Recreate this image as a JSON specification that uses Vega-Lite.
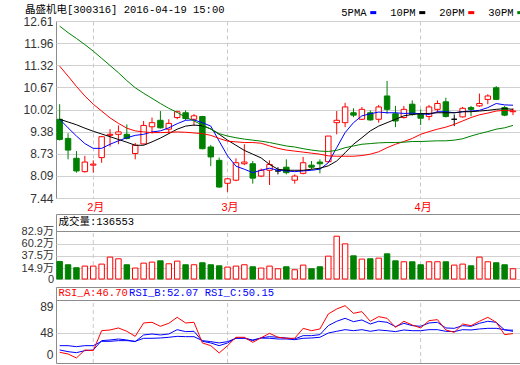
{
  "$schema": "https://vega.github.io/schema/vega-lite/v6.json",
  "background": "white",
  "padding": {"left": 20, "top": 4, "right": 0, "bottom": 0},
  "config": {
    "view": {"stroke": "#8c8c8c", "strokeWidth": 1},
    "axis": {"labelFont": "Liberation Sans, Noto Sans CJK SC", "labelFontSize": 12, "labelColor": "#333333", "ticks": false, "tickSize": 0, "domain": false, "title": null, "gridColor": "#d0d0d0", "gridWidth": 1, "labelOverlap": false, "tickCount": 60}
  },
  "datasets": {
    "k": [
      {"date":"2016-01-26","open":9.74,"high":10.18,"low":9.12,"close":9.15,"dir":"down","vol":271000,"ma5":9.74,"ma10":9.74,"ma20":11.29,"ma30":12.46,"rsiA":17,"rsiB":20.7,"rsiC":27.5},
      {"date":"2016-01-27","open":9.18,"high":9.33,"low":8.57,"close":8.84,"dir":"down","vol":210000,"ma5":9.49,"ma10":9.66,"ma20":11.0,"ma30":12.27,"rsiA":14.3,"rsiB":18,"rsiC":27.5},
      {"date":"2016-01-28","open":8.6,"high":8.81,"low":8.18,"close":8.23,"dir":"down","vol":155000,"ma5":9.25,"ma10":9.58,"ma20":10.7,"ma30":12.1,"rsiA":8,"rsiB":16.4,"rsiC":25.9},
      {"date":"2016-01-29","open":8.21,"high":8.67,"low":8.18,"close":8.49,"dir":"up","vol":185000,"ma5":9.03,"ma10":9.48,"ma20":10.42,"ma30":11.92,"rsiA":20.7,"rsiB":19.6,"rsiC":27.5},
      {"date":"2016-02-01","open":8.4,"high":8.54,"low":8.18,"close":8.43,"dir":"up","vol":185000,"ma5":8.89,"ma10":9.39,"ma20":10.18,"ma30":11.73,"rsiA":19.6,"rsiB":20.7,"rsiC":27.5},
      {"date":"2016-02-02","open":8.62,"high":9.25,"low":8.47,"close":9.23,"dir":"up","vol":222000,"ma5":8.89,"ma10":9.31,"ma20":9.98,"ma30":11.52,"rsiA":51.3,"rsiB":35.5,"rsiC":34.4},
      {"date":"2016-02-03","open":9.27,"high":9.45,"low":8.94,"close":9.3,"dir":"up","vol":351000,"ma5":9.01,"ma10":9.23,"ma20":9.78,"ma30":11.31,"rsiA":52.4,"rsiB":36.5,"rsiC":34.4},
      {"date":"2016-02-04","open":9.3,"high":9.56,"low":9.01,"close":9.37,"dir":"up","vol":320000,"ma5":9.11,"ma10":9.15,"ma20":9.62,"ma30":11.1,"rsiA":55.6,"rsiB":38.1,"rsiC":35.5},
      {"date":"2016-02-05","open":9.3,"high":9.59,"low":9.15,"close":9.18,"dir":"down","vol":210000,"ma5":9.2,"ma10":9.07,"ma20":9.48,"ma30":10.87,"rsiA":50.3,"rsiB":36.5,"rsiC":35.5},
      {"date":"2016-02-15","open":8.74,"high":9.05,"low":8.57,"close":8.98,"dir":"up","vol":149000,"ma5":9.27,"ma10":8.98,"ma20":9.4,"ma30":10.66,"rsiA":42.3,"rsiB":33.9,"rsiC":34.4},
      {"date":"2016-02-16","open":9.02,"high":9.69,"low":9.0,"close":9.56,"dir":"up","vol":240000,"ma5":9.3,"ma10":8.98,"ma20":9.37,"ma30":10.5,"rsiA":63.5,"rsiB":44.5,"rsiC":39.2},
      {"date":"2016-02-17","open":9.52,"high":9.79,"low":9.32,"close":9.64,"dir":"up","vol":259000,"ma5":9.37,"ma10":9.08,"ma20":9.35,"ma30":10.35,"rsiA":64.6,"rsiB":46,"rsiC":39.2},
      {"date":"2016-02-18","open":9.71,"high":9.98,"low":9.47,"close":9.49,"dir":"down","vol":283000,"ma5":9.4,"ma10":9.19,"ma20":9.35,"ma30":10.2,"rsiA":58.2,"rsiB":44.5,"rsiC":39.7},
      {"date":"2016-02-19","open":9.45,"high":9.74,"low":9.32,"close":9.62,"dir":"up","vol":228000,"ma5":9.49,"ma10":9.32,"ma20":9.36,"ma30":10.06,"rsiA":63,"rsiB":46,"rsiC":40.8},
      {"date":"2016-02-22","open":9.79,"high":9.99,"low":9.74,"close":9.96,"dir":"up","vol":277000,"ma5":9.61,"ma10":9.45,"ma20":9.37,"ma30":9.94,"rsiA":72.5,"rsiB":52.9,"rsiC":42.3},
      {"date":"2016-02-23","open":9.93,"high":10.0,"low":9.71,"close":9.76,"dir":"down","vol":210000,"ma5":9.71,"ma10":9.54,"ma20":9.36,"ma30":9.8,"rsiA":63.5,"rsiB":49.8,"rsiC":41.8},
      {"date":"2016-02-24","open":9.74,"high":9.89,"low":9.55,"close":9.84,"dir":"up","vol":210000,"ma5":9.72,"ma10":9.57,"ma20":9.34,"ma30":9.69,"rsiA":64.6,"rsiB":50.3,"rsiC":41.8},
      {"date":"2016-02-25","open":9.82,"high":9.84,"low":8.86,"close":8.88,"dir":"down","vol":247000,"ma5":9.64,"ma10":9.55,"ma20":9.32,"ma30":9.57,"rsiA":31.8,"rsiB":34.4,"rsiC":35.5},
      {"date":"2016-02-26","open":8.93,"high":8.99,"low":8.37,"close":8.64,"dir":"down","vol":210000,"ma5":9.54,"ma10":9.46,"ma20":9.27,"ma30":9.45,"rsiA":27.5,"rsiB":31.8,"rsiC":33.9},
      {"date":"2016-02-29","open":8.54,"high":8.62,"low":7.74,"close":7.76,"dir":"down","vol":191000,"ma5":9.1,"ma10":9.3,"ma20":9.18,"ma30":9.32,"rsiA":15.9,"rsiB":27.5,"rsiC":31.8},
      {"date":"2016-03-01","open":7.87,"high":8.02,"low":7.62,"close":8.0,"dir":"up","vol":167000,"ma5":8.67,"ma10":9.13,"ma20":9.1,"ma30":9.25,"rsiA":27.5,"rsiB":31.8,"rsiC":33.9},
      {"date":"2016-03-02","open":7.96,"high":8.6,"low":7.93,"close":8.47,"dir":"up","vol":185000,"ma5":8.37,"ma10":8.98,"ma20":9.08,"ma30":9.2,"rsiA":40.8,"rsiB":39.7,"rsiC":39.2},
      {"date":"2016-03-03","open":8.44,"high":9.01,"low":8.4,"close":8.49,"dir":"up","vol":210000,"ma5":8.28,"ma10":8.83,"ma20":9.06,"ma30":9.16,"rsiA":40.8,"rsiB":39.7,"rsiC":39.2},
      {"date":"2016-03-04","open":8.44,"high":8.52,"low":7.86,"close":8.02,"dir":"down","vol":173000,"ma5":8.18,"ma10":8.72,"ma20":9.06,"ma30":9.13,"rsiA":32.8,"rsiB":35.5,"rsiC":36.5},
      {"date":"2016-03-07","open":8.08,"high":8.3,"low":8.05,"close":8.25,"dir":"up","vol":149000,"ma5":8.25,"ma10":8.61,"ma20":9.04,"ma30":9.1,"rsiA":40,"rsiB":40,"rsiC":39.5},
      {"date":"2016-03-08","open":8.25,"high":8.54,"low":7.82,"close":8.42,"dir":"up","vol":185000,"ma5":8.31,"ma10":8.42,"ma20":8.96,"ma30":9.06,"rsiA":47.1,"rsiB":41.8,"rsiC":39.2},
      {"date":"2016-03-09","open":8.23,"high":8.34,"low":8.13,"close":8.23,"dir":"flat","vol":136000,"ma5":8.25,"ma10":8.28,"ma20":8.89,"ma30":9.01,"rsiA":40.8,"rsiB":40.8,"rsiC":38.1},
      {"date":"2016-03-10","open":8.34,"high":8.57,"low":8.13,"close":8.18,"dir":"down","vol":173000,"ma5":8.23,"ma10":8.25,"ma20":8.84,"ma30":8.96,"rsiA":39.2,"rsiB":39.7,"rsiC":38.1},
      {"date":"2016-03-11","open":7.96,"high":8.13,"low":7.86,"close":8.08,"dir":"up","vol":118000,"ma5":8.21,"ma10":8.25,"ma20":8.81,"ma30":8.93,"rsiA":39.2,"rsiB":38.1,"rsiC":37},
      {"date":"2016-03-14","open":8.16,"high":8.64,"low":8.13,"close":8.47,"dir":"up","vol":204000,"ma5":8.23,"ma10":8.25,"ma20":8.78,"ma30":8.88,"rsiA":55,"rsiB":43.4,"rsiC":39.2},
      {"date":"2016-03-15","open":8.4,"high":8.52,"low":8.28,"close":8.34,"dir":"down","vol":136000,"ma5":8.25,"ma10":8.28,"ma20":8.75,"ma30":8.84,"rsiA":51.3,"rsiB":43.4,"rsiC":39.7},
      {"date":"2016-03-16","open":8.49,"high":8.57,"low":8.16,"close":8.44,"dir":"down","vol":173000,"ma5":8.28,"ma10":8.31,"ma20":8.72,"ma30":8.81,"rsiA":54,"rsiB":45,"rsiC":40.8},
      {"date":"2016-03-17","open":8.5,"high":9.25,"low":8.47,"close":9.25,"dir":"up","vol":369000,"ma5":8.47,"ma10":8.38,"ma20":8.67,"ma30":8.8,"rsiA":77.8,"rsiB":59.3,"rsiC":47.6},
      {"date":"2016-03-18","open":9.64,"high":9.98,"low":9.3,"close":9.71,"dir":"up","vol":737000,"ma5":8.91,"ma10":8.52,"ma20":8.66,"ma30":8.83,"rsiA":85.7,"rsiB":66.2,"rsiC":50.3},
      {"date":"2016-03-21","open":9.64,"high":10.22,"low":9.51,"close":10.1,"dir":"up","vol":596000,"ma5":9.35,"ma10":8.76,"ma20":8.66,"ma30":8.91,"rsiA":91,"rsiB":70.9,"rsiC":52.9},
      {"date":"2016-03-22","open":9.93,"high":10.06,"low":9.8,"close":9.86,"dir":"down","vol":375000,"ma5":9.64,"ma10":9.01,"ma20":8.66,"ma30":8.96,"rsiA":78.8,"rsiB":65.6,"rsiC":51.3},
      {"date":"2016-03-23","open":9.74,"high":10.1,"low":9.72,"close":10.03,"dir":"up","vol":314000,"ma5":9.84,"ma10":9.2,"ma20":8.68,"ma30":9.01,"rsiA":81.5,"rsiB":68.3,"rsiC":52.9},
      {"date":"2016-03-24","open":9.93,"high":10.0,"low":9.7,"close":9.72,"dir":"down","vol":320000,"ma5":9.9,"ma10":9.4,"ma20":8.72,"ma30":9.03,"rsiA":66.2,"rsiB":61.9,"rsiC":50.3},
      {"date":"2016-03-25","open":9.74,"high":10.16,"low":9.64,"close":10.1,"dir":"up","vol":332000,"ma5":9.95,"ma10":9.54,"ma20":8.79,"ma30":9.05,"rsiA":73.6,"rsiB":66.2,"rsiC":52.4},
      {"date":"2016-03-28","open":10.42,"high":10.86,"low":9.9,"close":10.03,"dir":"down","vol":412000,"ma5":9.93,"ma10":9.64,"ma20":8.91,"ma30":9.06,"rsiA":70.9,"rsiB":64.6,"rsiC":51.3},
      {"date":"2016-03-29","open":9.9,"high":10.13,"low":9.51,"close":9.69,"dir":"down","vol":283000,"ma5":9.93,"ma10":9.74,"ma20":9.01,"ma30":9.06,"rsiA":56.6,"rsiB":57.7,"rsiC":49.8},
      {"date":"2016-03-30","open":9.79,"high":10.13,"low":9.76,"close":10.03,"dir":"up","vol":265000,"ma5":9.91,"ma10":9.84,"ma20":9.09,"ma30":9.07,"rsiA":66.2,"rsiB":63,"rsiC":52.4},
      {"date":"2016-03-31","open":10.18,"high":10.29,"low":9.84,"close":9.88,"dir":"down","vol":265000,"ma5":9.92,"ma10":9.88,"ma20":9.18,"ma30":9.09,"rsiA":60.3,"rsiB":59.3,"rsiC":51.3},
      {"date":"2016-04-01","open":9.9,"high":10.03,"low":9.57,"close":9.77,"dir":"down","vol":210000,"ma5":9.9,"ma10":9.9,"ma20":9.3,"ma30":9.09,"rsiA":55.6,"rsiB":58.2,"rsiC":51.3},
      {"date":"2016-04-05","open":9.82,"high":10.16,"low":9.71,"close":10.1,"dir":"up","vol":265000,"ma5":9.88,"ma10":9.91,"ma20":9.38,"ma30":9.1,"rsiA":67.2,"rsiB":63.5,"rsiC":52.9},
      {"date":"2016-04-06","open":10.03,"high":10.29,"low":9.93,"close":10.2,"dir":"up","vol":265000,"ma5":9.96,"ma10":9.93,"ma20":9.45,"ma30":9.11,"rsiA":68.8,"rsiB":64.6,"rsiC":52.9},
      {"date":"2016-04-07","open":10.25,"high":10.37,"low":9.79,"close":9.82,"dir":"down","vol":265000,"ma5":9.96,"ma10":9.93,"ma20":9.51,"ma30":9.11,"rsiA":52.4,"rsiB":55.6,"rsiC":50.3},
      {"date":"2016-04-08","open":9.74,"high":9.88,"low":9.54,"close":9.74,"dir":"flat","vol":204000,"ma5":9.93,"ma10":9.93,"ma20":9.59,"ma30":9.13,"rsiA":48.7,"rsiB":55,"rsiC":49.8},
      {"date":"2016-04-11","open":9.81,"high":10.1,"low":9.79,"close":10.06,"dir":"up","vol":222000,"ma5":9.96,"ma10":9.96,"ma20":9.69,"ma30":9.17,"rsiA":61.9,"rsiB":59.3,"rsiC":52.9},
      {"date":"2016-04-12","open":10.08,"high":10.13,"low":9.83,"close":10.03,"dir":"down","vol":191000,"ma5":9.98,"ma10":9.96,"ma20":9.79,"ma30":9.25,"rsiA":59.3,"rsiB":58.2,"rsiC":52.4},
      {"date":"2016-04-13","open":10.13,"high":10.49,"low":10.1,"close":10.2,"dir":"up","vol":351000,"ma5":10.0,"ma10":9.98,"ma20":9.87,"ma30":9.32,"rsiA":66.2,"rsiB":63,"rsiC":54},
      {"date":"2016-04-14","open":10.32,"high":10.47,"low":10.18,"close":10.42,"dir":"up","vol":265000,"ma5":10.08,"ma10":10.0,"ma20":9.92,"ma30":9.38,"rsiA":72.5,"rsiB":66.2,"rsiC":55},
      {"date":"2016-04-15","open":10.66,"high":10.71,"low":10.3,"close":10.32,"dir":"down","vol":247000,"ma5":10.2,"ma10":10.03,"ma20":9.98,"ma30":9.45,"rsiA":64.6,"rsiB":64.6,"rsiC":55},
      {"date":"2016-04-18","open":10.08,"high":10.13,"low":9.83,"close":9.86,"dir":"down","vol":210000,"ma5":10.16,"ma10":10.05,"ma20":10.0,"ma30":9.49,"rsiA":45,"rsiB":52.4,"rsiC":52.9},
      {"date":"2016-04-19","open":9.96,"high":10.06,"low":9.86,"close":9.98,"dir":"up","vol":136553,"ma5":10.15,"ma10":10.03,"ma20":9.98,"ma30":9.56,"rsiA":46.7,"rsiB":52.07,"rsiC":50.15}
    ]
  },
  "spacing": 0,
  "vconcat": [
    {
      "width": 464,
      "height": 177,
      "data": {"name": "k"},
      "title": {"text": "晶盛机电[300316] 2016-04-19 15:00", "anchor": "start", "font": "Liberation Mono, Noto Sans CJK SC", "fontSize": 10.5, "fontWeight": "normal", "color": "#000000", "offset": -10, "dx": 2, "baseline": "bottom"},
      "layer": [
        {
          "mark": {"type": "rule", "strokeWidth": 1},
          "encoding": {
            "x": {"field": "date", "type": "ordinal", "bandPosition": 0.5,
              "scale": {"type": "band", "paddingInner": 0.35, "paddingOuter": 0.31, "align": 0.18},
              "axis": {"values": ["2016-02-01", "2016-03-01", "2016-04-01"], "labelExpr": "{'2016-02-01':'2月','2016-03-01':'3月','2016-04-01':'4月'}[datum.value]", "grid": true, "gridDash": [4, 3], "gridColor": "#c8c8c8", "bandPosition": 0.5, "labelColor": "#ff0000", "labelFontSize": 11, "labelPadding": 3, "labelOffset": 2.5, "labelAngle": 0, "labelOverlap": false}},
            "y": {"field": "low", "type": "quantitative", "scale": {"domain": [7.44, 12.61], "zero": false, "nice": false},
              "axis": {"values": [7.44, 8.09, 8.73, 9.38, 10.02, 10.67, 11.32, 11.96, 12.61], "tickCount": 60, "format": ".2f", "grid": true, "labelPadding": 3, "labelOverlap": false}},
            "y2": {"field": "high"},
            "stroke": {"condition": [{"test": "datum.dir === 'down'", "value": "#008000"}, {"test": "datum.dir === 'flat'", "value": "#000000"}], "value": "#ff0000"}
          }
        },
        {
          "mark": {"type": "bar", "strokeWidth": 1},
          "encoding": {
            "x": {"field": "date", "type": "ordinal"},
            "y": {"field": "open", "type": "quantitative"},
            "y2": {"field": "close"},
            "fill": {"condition": [{"test": "datum.dir === 'down'", "value": "#008000"}, {"test": "datum.dir === 'flat'", "value": "#000000"}], "value": "#ffffff"},
            "stroke": {"condition": [{"test": "datum.dir === 'down'", "value": "#008000"}, {"test": "datum.dir === 'flat'", "value": "#000000"}], "value": "#ff0000"}
          }
        },
        {
          "transform": [{"fold": ["ma5", "ma10", "ma20", "ma30"], "as": ["ma", "price"]}],
          "mark": {"type": "line", "strokeWidth": 1},
          "encoding": {
            "x": {"field": "date", "type": "ordinal", "bandPosition": 0.5},
            "y": {"field": "price", "type": "quantitative"},
            "color": {"field": "ma", "type": "nominal",
              "scale": {"domain": ["ma5", "ma10", "ma20", "ma30"], "range": ["#0000ff", "#000000", "#ff0000", "#008000"]},
              "legend": {"orient": "none", "legendX": 312, "legendY": -14, "direction": "horizontal", "title": null, "padding": 0,
                "labelExpr": "{'ma5':'5PMA','ma10':'10PM','ma20':'20PM','ma30':'30PM'}[datum.value]",
                "symbolType": "M-1,0H1", "symbolSize": 36, "symbolStrokeWidth": 3,
                "labelFont": "Liberation Mono", "labelFontSize": 10.5, "labelColor": "#000000",
                "labelAlign": "right", "labelOffset": -12, "columnPadding": 7}}
          }
        }
      ]
    },
    {
      "spacing": 1,
      "vconcat": [
        {
          "width": 464,
          "height": 65,
          "data": {"name": "k"},
          "layer": [
            {
              "transform": [{"filter": {"field": "date", "oneOf": ["2016-02-01", "2016-03-01", "2016-04-01"]}}],
              "mark": {"type": "rule", "strokeDash": [4, 3], "color": "#c8c8c8"},
              "encoding": {
                "x": {"field": "date", "type": "ordinal", "bandPosition": 0.5,
                  "scale": {"type": "band", "paddingInner": 0.35, "paddingOuter": 0.31, "align": 0.18}, "axis": null},
                "y": {"datum": -53000, "type": "quantitative", "scale": {"domain": [-53000, 1147000], "zero": false, "nice": false},
                  "axis": {"values": [-53000, 149000, 375000, 602000, 829000], "tickCount": 60, "labelExpr": "datum.value < 0 ? '0' : format(datum.value / 10000, '.1f') + '万'", "grid": true, "labelOverlap": false, "labelFontSize": 11,
                    "gridColor": {"condition": {"test": "datum.value > 800000", "value": "#8c8c8c"}, "value": "#d0d0d0"}, "labelPadding": 2.5}},
                "y2": {"datum": 829000}
              }
            },
            {
              "mark": {"type": "bar", "strokeWidth": 1},
              "encoding": {
                "x": {"field": "date", "type": "ordinal"},
                "y": {"field": "vol", "type": "quantitative"},
                "y2": {"datum": -53000},
                "fill": {"condition": {"test": "datum.dir === 'down'", "value": "#008000"}, "value": "#ffffff"},
                "stroke": {"condition": {"test": "datum.dir === 'down'", "value": "#008000"}, "value": "#ff0000"}
              }
            },
            {
              "transform": [{"filter": "datum.date === '2016-04-19'"}, {"calculate": "'成交量:' + datum.vol", "as": "hdr"}],
              "mark": {"type": "text", "align": "left", "baseline": "middle", "font": "Liberation Mono, Noto Sans CJK SC", "fontSize": 10.5, "color": "#000000", "dx": 1.5},
              "encoding": {
                "x": {"datum": "2016-01-26", "type": "ordinal", "bandPosition": 0},
                "y": {"datum": 991000, "type": "quantitative"},
                "text": {"field": "hdr"}
              }
            }
          ]
        },
        {
          "width": 464,
          "height": 76,
          "data": {"name": "k"},
          "layer": [
            {
              "transform": [{"filter": {"field": "date", "oneOf": ["2016-02-01", "2016-03-01", "2016-04-01"]}}],
              "mark": {"type": "rule", "strokeDash": [4, 3], "color": "#c8c8c8"},
              "encoding": {
                "x": {"field": "date", "type": "ordinal", "bandPosition": 0.5,
                  "scale": {"type": "band", "paddingInner": 0.35, "paddingOuter": 0.31, "align": 0.18}, "axis": null},
                "y": {"datum": 0, "type": "quantitative", "scale": {"domain": [0, 120.6], "zero": false, "nice": false},
                  "axis": {"values": [0, 48, 89, 100], "tickCount": 60, "labelExpr": "datum.value === 100 ? '' : datum.label", "grid": true, "labelOverlap": false,
                    "gridColor": {"condition": [{"test": "datum.value === 100", "value": "#8c8c8c"}, {"test": "datum.value === 48", "value": "#d0d0d0"}], "value": "transparent"},
                    "labelOffset": {"condition": {"test": "datum.value === 0", "value": -9}, "value": 0},
                    "labelPadding": 3}},
                "y2": {"datum": 100}
              }
            },
            {
              "mark": {"type": "line", "strokeWidth": 1, "color": "#0000ff"},
              "encoding": {"x": {"field": "date", "type": "ordinal", "bandPosition": 0.5}, "y": {"field": "rsiC", "type": "quantitative"}}
            },
            {
              "mark": {"type": "line", "strokeWidth": 1, "color": "#0000ff"},
              "encoding": {"x": {"field": "date", "type": "ordinal", "bandPosition": 0.5}, "y": {"field": "rsiB", "type": "quantitative"}}
            },
            {
              "mark": {"type": "line", "strokeWidth": 1, "color": "#ff0000"},
              "encoding": {"x": {"field": "date", "type": "ordinal", "bandPosition": 0.5}, "y": {"field": "rsiA", "type": "quantitative"}}
            },
            {
              "transform": [{"filter": "datum.date === '2016-04-19'"}, {"calculate": "'RSI_A:' + format(datum.rsiA, '.2f')", "as": "hdr"}],
              "mark": {"type": "text", "align": "left", "baseline": "middle", "font": "Liberation Mono", "fontSize": 10.5, "color": "#ff0000", "dx": 1.5},
              "encoding": {
                "x": {"datum": "2016-01-26", "type": "ordinal", "bandPosition": 0},
                "y": {"datum": 110.3, "type": "quantitative"},
                "text": {"field": "hdr"}
              }
            },
            {
              "transform": [{"filter": "datum.date === '2016-04-19'"}, {"calculate": "'RSI_B:' + format(datum.rsiB, '.2f') + ' RSI_C:' + format(datum.rsiC, '.2f')", "as": "hdr"}],
              "mark": {"type": "text", "align": "left", "baseline": "middle", "font": "Liberation Mono", "fontSize": 10.5, "color": "#0000ff", "dx": 5},
              "encoding": {
                "x": {"datum": "2016-02-05", "type": "ordinal", "bandPosition": 0},
                "y": {"datum": 110.3, "type": "quantitative"},
                "text": {"field": "hdr"}
              }
            }
          ]
        }
      ]
    }
  ]
}
